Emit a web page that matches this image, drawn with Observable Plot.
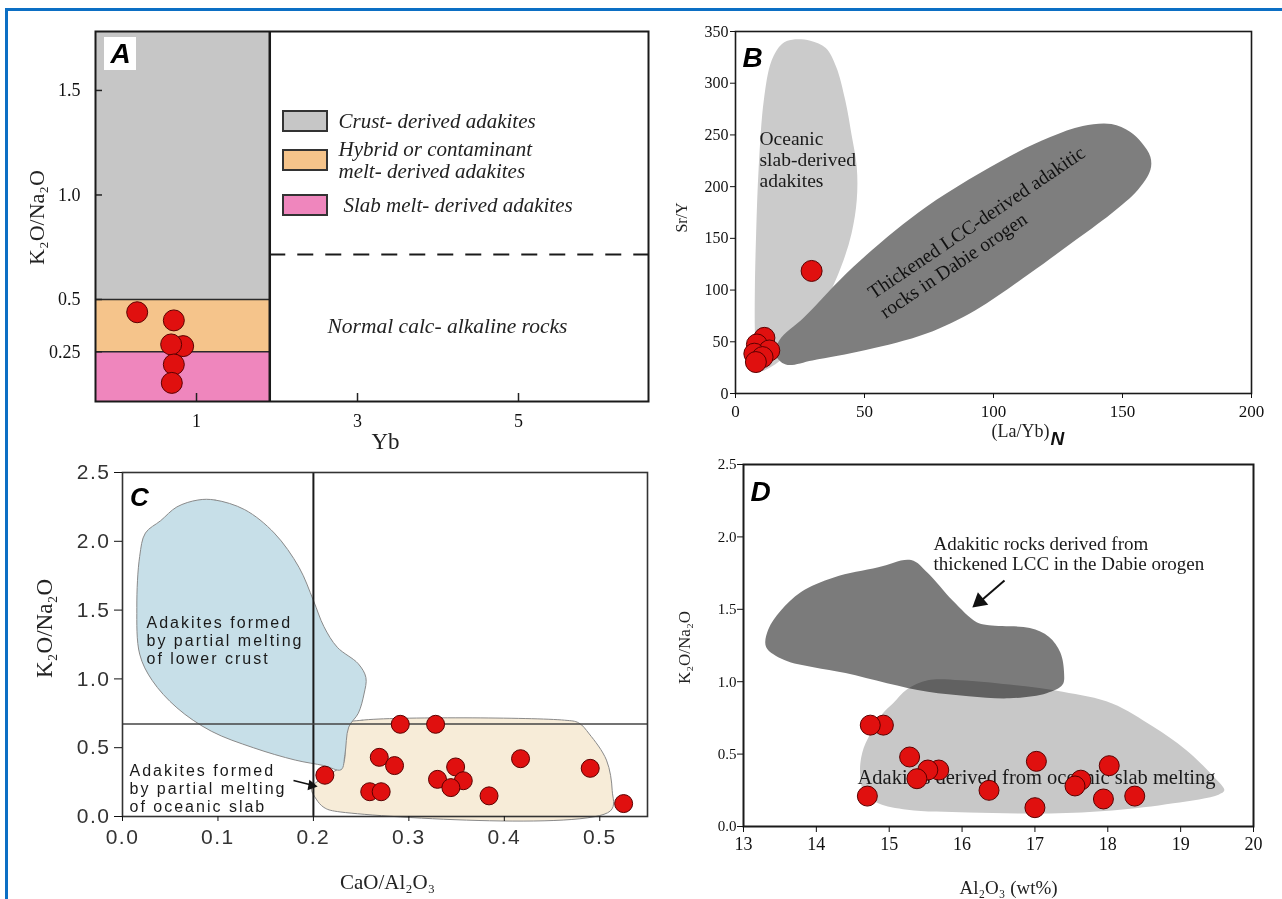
<!DOCTYPE html>
<html>
<head>
<meta charset="utf-8">
<script src="https://cdn.jsdelivr.net/npm/d3@7"></script>
<script src="https://cdn.jsdelivr.net/npm/@observablehq/plot@0.6"></script>
<style>
html, body { margin: 0; padding: 0; background: #fff; }
#wrap { position: relative; width: 1282px; height: 899px; overflow: hidden; background: #fff; }
.bt { position: absolute; left: 5px; top: 8px; width: 1277px; height: 3px; background: #0c6fc4; }
.bl { position: absolute; left: 5px; top: 8px; width: 3px; height: 891px; background: #0c6fc4; }
</style>
</head>
<body>
<div id="wrap"><div class="bt"></div><div class="bl"></div></div>
<script>
// ================= DATA =================
// Panel A : K2O/Na2O vs Yb
const aYb       = [0.263, 0.718, 0.834, 0.685, 0.718, 0.693];
const aK2ONa2O  = [0.439, 0.400, 0.277, 0.285, 0.189, 0.101];
const aXTicks   = [1, 3, 5];
const aYTicks   = [0.25, 0.5, 1.0, 1.5];
const aYTickLabels = ["0.25", "0.5", "1.0", "1.5"];
const aZoneNames = ["Crust- derived adakites", "Hybrid or contaminant\nmelt- derived adakites", "Slab melt- derived adakites"];
const aZoneLow   = [0.5, 0.25, 0];
const aZoneHigh  = [Infinity, 0.5, 0.25];
const aYbLimit   = 1.91;
const aNormalLimit = 0.715;
const aNormalLabel = "Normal calc- alkaline rocks";

// Panel B : Sr/Y vs (La/Yb)N
const bLaYbN = [29.5, 11.2, 8.3, 13.1, 7.3, 10.5, 7.9];
const bSrY   = [118.5, 53.8, 47.4, 41.6, 38.5, 35.2, 30.4];
const bXTicks = [0, 50, 100, 150, 200];
const bYTicks = [0, 50, 100, 150, 200, 250, 300, 350];
const bOceanicField = [[22,342],[29,341],[35,334],[39,316],[42.5,284],[45,250],[47,219],[47,187],[45,155],[41,123],[35,90],[27,62],[20,38],[14,26],[10,22],[8,30],[7.5,60],[7.5,100],[8,155],[9,219],[11,284],[14,322],[18,338]];
const bDabieField = [[15.5,38],[17,51.6],[26.7,74],[45.7,122.6],[74,180.6],[106,229],[122,248],[134.6,258.7],[145.7,260.6],[152.9,253],[157.6,242],[160.8,229],[160.8,216],[156,197],[145.7,174],[130,145],[114,116],[93,80.6],[74,58],[50.5,42],[29.8,32],[19.5,28]];
const bOceanicLabel = "Oceanic\nslab-derived\nadakites";
const bDabieLabel = ["Thickened LCC-derived adakitic", "rocks in Dabie orogen"];

// Panel C : K2O/Na2O vs CaO/Al2O3
const cCaOAl2O3 = [0.212, 0.291, 0.328, 0.269, 0.285, 0.259, 0.271, 0.330, 0.349, 0.357, 0.344, 0.384, 0.417, 0.490, 0.525];
const cK2ONa2O  = [0.30, 0.67, 0.67, 0.43, 0.37, 0.18, 0.18, 0.27, 0.36, 0.26, 0.21, 0.15, 0.42, 0.35, 0.094];
const cXTicks = [0, 0.1, 0.2, 0.3, 0.4, 0.5];
const cYTicks = [0, 0.5, 1.0, 1.5, 2.0, 2.5];
const cCaOLimit = 0.2;
const cK2OLimit = 0.672;
const cCrustField = [[0.079,2.30],[0.097,2.30],[0.128,2.23],[0.159,2.06],[0.185,1.81],[0.200,1.57],[0.211,1.38],[0.225,1.23],[0.247,1.11],[0.255,1.01],[0.253,0.89],[0.247,0.75],[0.237,0.65],[0.233,0.45],[0.229,0.34],[0.211,0.37],[0.181,0.41],[0.137,0.50],[0.093,0.62],[0.057,0.79],[0.031,0.99],[0.018,1.18],[0.015,1.52],[0.018,1.89],[0.024,2.06],[0.040,2.15],[0.057,2.25]];
const cSlabField = [[0.233,0.67],[0.251,0.70],[0.463,0.70],[0.478,0.68],[0.489,0.60],[0.507,0.41],[0.513,0.19],[0.511,0.04],[0.225,0.036],[0.211,0.066],[0.203,0.126],[0.198,0.21],[0.215,0.30],[0.231,0.38],[0.233,0.55]];
const cCrustLabel = "Adakites formed\nby partial melting\nof lower crust";
const cSlabLabel = "Adakites formed\nby partial melting\nof oceanic slab";

// Panel D : K2O/Na2O vs Al2O3
const dAl2O3   = [14.92, 14.74, 15.28, 15.68, 15.53, 15.38, 14.70, 16.37, 17.02, 17.00, 17.63, 17.55, 18.02, 17.94, 18.37];
const dK2ONa2O = [0.70, 0.70, 0.48, 0.39, 0.39, 0.33, 0.21, 0.25, 0.45, 0.13, 0.32, 0.28, 0.42, 0.19, 0.21];
const dXTicks = [13, 14, 15, 16, 17, 18, 19, 20];
const dYTicks = [0, 0.5, 1.0, 1.5, 2.0, 2.5];
const dDabieField = [[13.31,1.24],[13.34,1.36],[13.51,1.49],[13.79,1.62],[14.24,1.72],[14.85,1.79],[15.30,1.84],[15.53,1.75],[15.87,1.56],[16.20,1.41],[16.37,1.39],[16.93,1.37],[17.19,1.31],[17.35,1.20],[17.40,1.06],[17.38,0.98],[17.16,0.92],[16.65,0.885],[16.09,0.90],[15.53,0.93],[14.97,0.99],[14.40,1.06],[13.96,1.10],[13.56,1.15]];
const dSlabField = [[15.05,0.85],[15.25,0.95],[15.53,1.01],[15.98,1.01],[16.65,0.98],[17.38,0.93],[18.06,0.85],[18.62,0.69],[19.07,0.53],[19.46,0.34],[19.60,0.25],[19.52,0.22],[18.90,0.16],[18.06,0.11],[17.21,0.09],[16.09,0.097],[15.25,0.115],[14.85,0.16],[14.66,0.23],[14.60,0.37],[14.63,0.51],[14.74,0.64],[14.91,0.78]];
const dDabieLabel = "Adakitic rocks derived from\nthickened LCC in the Dabie orogen";
const dSlabLabel = "Adakites derived from oceanic slab melting";

// ================= STYLE / LAYOUT =================
const SERIF = "'Liberation Serif', 'Times New Roman', serif";
const SANS = "'Liberation Sans', Arial, sans-serif";
const RED = "#e0100f", RED_STROKE = "#5a0000";
const zoneColors = ["#c6c6c6", "#f5c48b", "#ef86bd"];
const wrap = document.getElementById("wrap");
const idx = a => a.map((_, i) => i);
const baseStyle = {background: "transparent", overflow: "visible", fontFamily: SERIF, fontSize: "18px", color: "#111"};

function pxMap(fr, xd, yd) {
  return {
    x: p => xd[0] + (p - fr.l) / (fr.r - fr.l) * (xd[1] - xd[0]),
    y: p => yd[0] + (fr.b - p) / (fr.b - fr.t) * (yd[1] - yd[0])
  };
}
function panel(off, fr, xd, yd, marks, extra = {}) {
  const svg = Plot.plot({
    width: off.w, height: off.h,
    marginLeft: fr.l - off.x, marginTop: fr.t - off.y,
    marginRight: off.x + off.w - fr.r, marginBottom: off.y + off.h - fr.b,
    x: {domain: xd}, y: {domain: yd}, color: {type: "identity"},
    style: {...baseStyle, ...(extra.style || {})},
    marks
  });
  svg.style.position = "absolute";
  svg.style.left = off.x + "px";
  svg.style.top = off.y + "px";
  wrap.appendChild(svg);
  return svg;
}
const blob = (pts, opts) => Plot.line(pts, {x: d => d[0], y: d => d[1], curve: "catmull-rom-closed", stroke: "none", ...opts});

// ---------------- Panel A ----------------
{
  const off = {x: 0, y: 0, w: 660, h: 450};
  const fr = {l: 95, t: 31, r: 648, b: 401};
  const xd = [-0.255, 6.615], yd = [0.012, 1.782];
  const p = pxMap(fr, xd, yd);
  const legTop = [111, 150, 195], legTextY = [120, 159, 204], legTextX = [338, 338, 343];
  panel(off, fr, xd, yd, [
    Plot.rect(idx(aZoneNames), {x1: xd[0], x2: aYbLimit,
      y1: i => Math.max(aZoneLow[i], yd[0]), y2: i => Math.min(aZoneHigh[i], yd[1]), fill: i => zoneColors[i]}),
    Plot.ruleY(aZoneLow.filter(v => v > yd[0]), {x1: xd[0], x2: aYbLimit, stroke: "#2a2a2a", strokeWidth: 1.6}),
    Plot.ruleX([aYbLimit], {y1: yd[0], y2: yd[1], stroke: "#1a1a1a", strokeWidth: 2.5}),
    Plot.ruleY([aNormalLimit], {x1: aYbLimit, x2: xd[1], stroke: "#1a1a1a", strokeWidth: 2, strokeDasharray: "16,12"}),
    // inward ticks
    Plot.ruleY(aYTicks, {x1: xd[0], x2: p.x(fr.l + 7), stroke: "#222", strokeWidth: 1.5}),
    Plot.ruleX(aXTicks, {y1: yd[0], y2: p.y(fr.b - 8), stroke: "#222", strokeWidth: 1.5}),
    // legend
    Plot.rect(idx(aZoneNames), {x1: p.x(283), x2: p.x(327), y1: i => p.y(legTop[i]), y2: i => p.y(legTop[i] + 20),
      fill: i => zoneColors[i], stroke: "#333", strokeWidth: 2}),
    Plot.text(idx(aZoneNames), {x: i => p.x(legTextX[i]), y: i => p.y(legTextY[i]), text: i => aZoneNames[i],
      textAnchor: "start", fontStyle: "italic", fontSize: 21, lineHeight: 1.05, fill: "#222"}),
    Plot.text([aNormalLabel], {x: p.x(327), y: p.y(326), text: d => d, textAnchor: "start", fontStyle: "italic", fontSize: 21.5, fill: "#222"}),
    // samples
    Plot.dot(idx(aYb), {x: i => aYb[i], y: i => aK2ONa2O[i], r: 10.5, fill: RED, stroke: RED_STROKE, strokeWidth: 1}),
    // panel letter
    Plot.rect([0], {x1: p.x(104), x2: p.x(136), y1: p.y(37), y2: p.y(70), fill: "#fff"}),
    Plot.text(["A"], {x: p.x(120), y: p.y(54), text: d => d, fontFamily: SANS, fontWeight: "bold", fontStyle: "italic", fontSize: 28, fill: "#000"}),
    Plot.frame({stroke: "#1a1a1a", strokeWidth: 2}),
    Plot.axisY({ticks: aYTicks, tickFormat: (d, i) => aYTickLabels[aYTicks.indexOf(d)], tickSize: 0, tickPadding: 15, fontSize: 18, label: null}),
    Plot.axisX({ticks: aXTicks, tickFormat: d => String(d), tickSize: 0, tickPadding: 13, fontSize: 18, label: null}),
    Plot.text(["K₂O/Na₂O"], {x: p.x(36), y: p.y(217), text: d => d, rotate: -90, fontSize: 22, fill: "#222"}),
    Plot.text(["Yb"], {x: p.x(385), y: p.y(441), text: d => d, fontSize: 23, fill: "#222"})
  ]);
}

// ---------------- Panel B ----------------
{
  const off = {x: 640, y: 0, w: 642, h: 450};
  const fr = {l: 735, t: 31, r: 1251, b: 393};
  const xd = [0, 200], yd = [0, 350];
  const p = pxMap(fr, xd, yd);
  panel(off, fr, xd, yd, [
    blob(bOceanicField, {fill: "#cbcbcb"}),
    blob(bDabieField, {fill: "#7e7e7e"}),
    Plot.text([bOceanicLabel], {x: p.x(759), y: p.y(159), text: d => d, textAnchor: "start", fontSize: 19.5, lineHeight: 1.08, fill: "#1a1a1a"}),
    Plot.text([0], {x: p.x(976), y: p.y(222), text: () => bDabieLabel[0], rotate: -34, fontSize: 19.5, fill: "#111"}),
    Plot.text([1], {x: p.x(953), y: p.y(265), text: () => bDabieLabel[1], rotate: -34, fontSize: 19.5, fill: "#111"}),
    Plot.dot(idx(bLaYbN), {x: i => bLaYbN[i], y: i => bSrY[i], r: 10.5, fill: RED, stroke: RED_STROKE, strokeWidth: 1}),
    Plot.text(["B"], {x: p.x(752), y: p.y(58), text: d => d, fontFamily: SANS, fontWeight: "bold", fontStyle: "italic", fontSize: 28, fill: "#000"}),
    Plot.frame({stroke: "#1a1a1a", strokeWidth: 1.6}),
    Plot.axisY({ticks: bYTicks, tickSize: 5, tickPadding: 2, fontSize: 16, label: null}),
    Plot.axisX({ticks: bXTicks, tickSize: 5, tickPadding: 6, fontSize: 17, label: null}),
    Plot.text(["Sr/Y"], {x: p.x(681), y: p.y(217), text: d => d, rotate: -90, fontSize: 16, fill: "#222"}),
    Plot.text(["(La/Yb)"], {x: p.x(1049), y: p.y(431), text: d => d, textAnchor: "end", fontSize: 18, fill: "#222"}),
    Plot.text(["N"], {x: p.x(1050), y: p.y(438), text: d => d, textAnchor: "start", fontFamily: SANS, fontWeight: "bold", fontStyle: "italic", fontSize: 19, fill: "#111"})
  ]);
}

// ---------------- Panel C ----------------
{
  const off = {x: 0, y: 440, w: 660, h: 459};
  const fr = {l: 122, t: 472, r: 647, b: 816};
  const xd = [0, 0.55], yd = [0, 2.5];
  const p = pxMap(fr, xd, yd);
  const svg = panel(off, fr, xd, yd, [
    blob(cSlabField, {fill: "#f7ecd8", stroke: "#8a8a8a", strokeWidth: 1}),
    blob(cCrustField, {fill: "#c7dfe8", stroke: "#8a8a8a", strokeWidth: 1}),
    Plot.ruleX([cCaOLimit], {y1: yd[0], y2: yd[1], stroke: "#1a1a1a", strokeWidth: 2}),
    Plot.ruleY([cK2OLimit], {x1: xd[0], x2: xd[1], stroke: "#444", strokeWidth: 1.5}),
    Plot.text([cCrustLabel], {x: p.x(146), y: p.y(640), text: d => d, textAnchor: "start", fontFamily: SANS, fontSize: 16, lineHeight: 1.13, fill: "#1a1a1a"}),
    Plot.text([cSlabLabel], {x: p.x(129), y: p.y(788), text: d => d, textAnchor: "start", fontFamily: SANS, fontSize: 16, lineHeight: 1.13, fill: "#1a1a1a"}),
    Plot.link([0], {x1: p.x(293), y1: p.y(780), x2: p.x(309), y2: p.y(784), stroke: "#111", strokeWidth: 1.5}),
    Plot.dot([0], {x: p.x(311), y: p.y(785), symbol: "triangle", r: 4, rotate: 100, fill: "#111", stroke: "none"}),
    Plot.dot(idx(cCaOAl2O3), {x: i => cCaOAl2O3[i], y: i => cK2ONa2O[i], r: 9, fill: RED, stroke: RED_STROKE, strokeWidth: 1}),
    Plot.text(["C"], {x: p.x(139), y: p.y(497), text: d => d, fontFamily: SANS, fontWeight: "bold", fontStyle: "italic", fontSize: 26, fill: "#000"}),
    Plot.frame({stroke: "#333", strokeWidth: 1.6}),
    Plot.axisY({ticks: cYTicks, tickFormat: d3.format(".1f"), tickSize: 8, tickPadding: 4, fontFamily: SANS, fontSize: 21, fill: "#333", label: null}),
    Plot.axisX({ticks: cXTicks, tickFormat: d3.format(".1f"), tickSize: 5, tickPadding: 8, fontFamily: SANS, fontSize: 21, fill: "#333", label: null}),
    Plot.text(["K₂O/Na₂O"], {x: p.x(44), y: p.y(628), text: d => d, rotate: -90, fontSize: 23, fill: "#222"}),
    Plot.text(["CaO/Al₂O₃"], {x: p.x(387), y: p.y(882), text: d => d, fontSize: 21, fill: "#222"})
  ]);
  const s = d3.select(svg);
  s.selectAll("g[aria-label='y-axis tick label'] text, g[aria-label='x-axis tick label'] text").style("letter-spacing", "1.5px");
  s.selectAll("text").filter(function () {
    const t = this.textContent || "";
    return t.startsWith("Adakites formed");
  }).style("letter-spacing", "2px");
}

// ---------------- Panel D ----------------
{
  const off = {x: 640, y: 440, w: 642, h: 459};
  const fr = {l: 743, t: 464, r: 1253, b: 826};
  const xd = [13, 20], yd = [0, 2.5];
  const p = pxMap(fr, xd, yd);
  panel(off, fr, xd, yd, [
    blob(dDabieField, {fill: "#7b7b7b"}),
    blob(dSlabField, {fill: "#c8c8c8", mixBlendMode: "multiply"}),
    Plot.text([dDabieLabel], {x: p.x(933), y: p.y(553), text: d => d, textAnchor: "start", fontSize: 19, lineHeight: 1.07, fill: "#1a1a1a"}),
    Plot.link([0], {x1: p.x(1004), y1: p.y(580), x2: p.x(982), y2: p.y(599), stroke: "#111", strokeWidth: 2}),
    Plot.dot([0], {x: p.x(979), y: p.y(601), symbol: "triangle", r: 6, rotate: 230, fill: "#111", stroke: "none"}),
    Plot.text([dSlabLabel], {x: p.x(857), y: p.y(777), text: d => d, textAnchor: "start", fontSize: 20.5, fill: "#1a1a1a"}),
    Plot.dot(idx(dAl2O3), {x: i => dAl2O3[i], y: i => dK2ONa2O[i], r: 10, fill: RED, stroke: RED_STROKE, strokeWidth: 1}),
    Plot.text(["D"], {x: p.x(760), y: p.y(492), text: d => d, fontFamily: SANS, fontWeight: "bold", fontStyle: "italic", fontSize: 28, fill: "#000"}),
    Plot.frame({stroke: "#1a1a1a", strokeWidth: 2}),
    Plot.axisY({ticks: dYTicks, tickFormat: d3.format(".1f"), tickSize: 6, tickPadding: 1, fontSize: 15, label: null}),
    Plot.axisX({ticks: dXTicks, tickFormat: d3.format("d"), tickSize: 6, tickPadding: 5, fontSize: 18, label: null}),
    Plot.text(["K₂O/Na₂O"], {x: p.x(684), y: p.y(647), text: d => d, rotate: -90, fontSize: 17, fill: "#222"}),
    Plot.text(["Al₂O₃ (wt%)"], {x: p.x(1008), y: p.y(887), text: d => d, fontSize: 19, fill: "#222"})
  ]);
}
</script>
</body>
</html>
